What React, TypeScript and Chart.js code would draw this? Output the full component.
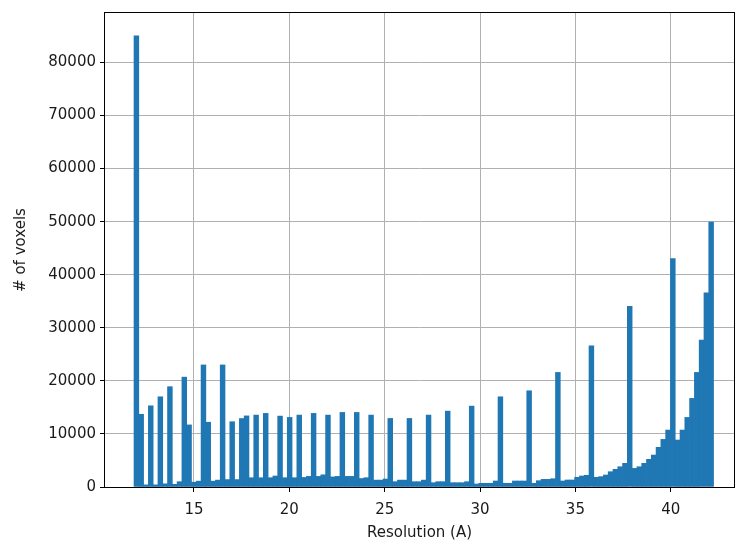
import React, { useEffect, useRef } from "react";
import { Chart, registerables } from "chart.js";
Chart.register(...registerables);

const BIN_START = 11.854;
const BIN_WIDTH = 0.25116;
const counts = [
  85000, 13700, 400, 15300, 400, 17000, 600, 18900, 500, 1000,
  20700, 11700, 900, 1100, 23000, 12200, 1100, 1300, 23000, 1400,
  12300, 1400, 12900, 13400, 1750, 13550, 1750, 13870, 1750, 2070,
  13360, 1750, 13110, 1750, 13550, 1800, 2000, 13870, 2000, 2300,
  13550, 1900, 2000, 14050, 2000, 2000, 14050, 1600, 1750, 13550,
  1300, 1300, 1500, 12920, 1000, 1300, 1300, 12920, 1000, 1000,
  1300, 13550, 810, 1000, 1000, 14300, 810, 810, 810, 1000,
  15240, 560, 700, 700, 700, 1130, 17000, 700, 700, 1130,
  1130, 1130, 18130, 700, 1190, 1440, 1440, 1560, 21590, 1130,
  1320, 1320, 1820, 2070, 2200, 26600, 1820, 1950, 2260, 2880,
  3330, 3820, 4460, 34060, 3510, 3820, 4460, 5210, 6020, 7470,
  8970, 10730, 43040, 8850, 10730, 13110, 16690, 21590, 27670, 36570,
  49930,
];
const xTicks = [15, 20, 25, 30, 35, 40];
const yTicks = [0, 10000, 20000, 30000, 40000, 50000, 60000, 70000, 80000];
const X_MIN = 10.333;
const X_MAX = 43.317;
const Y_MAX = 89313;

const FONT = "'DejaVu Sans', sans-serif";

const boxPlugin = {
  id: "box",
  afterDraw(chart: any) {
    const { ctx, chartArea } = chart;
    ctx.save();
    ctx.strokeStyle = "#000";
    ctx.lineWidth = 1;
    ctx.strokeRect(
      Math.round(chartArea.left) - 0.5,
      Math.round(chartArea.top) - 0.5,
      Math.round(chartArea.right - chartArea.left) + 1,
      Math.round(chartArea.bottom - chartArea.top) + 1
    );
    ctx.restore();
  },
};

export default function App() {
  const ref = useRef<HTMLCanvasElement>(null);
  useEffect(() => {
    const data = counts.map((c, i) => ({ x: BIN_START + BIN_WIDTH * (i + 0.5), y: c }));
    const chart = new Chart(ref.current!, {
      type: "bar",
      data: {
        datasets: [
          {
            data,
            backgroundColor: "#1f77b4",
            borderWidth: 0,
            barPercentage: 1,
            categoryPercentage: 1,
          },
        ],
      },
      options: {
        responsive: false,
        animation: false,
        layout: { padding: { left: 0, right: 1, top: 12, bottom: 0 } },
        plugins: { legend: { display: false }, tooltip: { enabled: false } },
        scales: {
          x: {
            type: "linear",
            min: X_MIN,
            max: X_MAX,
            offset: false,
            z: 1,
            afterBuildTicks: (s: any) => {
              s.ticks = xTicks.map((v) => ({ value: v }));
            },
            afterFit: (s: any) => {
              s.height = 57;
            },
            grid: {
              offset: false,
              color: "#b0b0b0",
              lineWidth: 1,
              tickColor: "#000",
              tickLength: 5,
            },
            border: { display: false },
            ticks: {
              font: { family: FONT, size: 15 },
              color: "#1a1a1a",
              padding: 9,
              maxRotation: 0,
            },
            title: {
              display: true,
              text: "Resolution (A)",
              font: { family: FONT, size: 15 },
              color: "#1a1a1a",
              padding: { top: 0, bottom: 2 },
            },
          },
          y: {
            type: "linear",
            min: 0,
            max: Y_MAX,
            z: 1,
            afterBuildTicks: (s: any) => {
              s.ticks = yTicks.map((v) => ({ value: v }));
            },
            afterFit: (s: any) => {
              s.width = 105;
            },
            grid: {
              color: "#b0b0b0",
              lineWidth: 1,
              tickColor: "#000",
              tickLength: 5,
            },
            border: { display: false },
            ticks: {
              font: { family: FONT, size: 15 },
              color: "#1a1a1a",
              padding: 4,
              callback: (v: any) => String(v),
            },
            title: {
              display: true,
              text: "# of voxels",
              font: { family: FONT, size: 15 },
              color: "#1a1a1a",
              padding: { top: 12, bottom: 0 },
            },
          },
        },
      },
      plugins: [boxPlugin],
    });
    return () => chart.destroy();
  }, []);
  return (
    <div style={{ position: "fixed", left: 0, top: 0, width: 735, height: 544, background: "#fff" }}>
      <canvas ref={ref} width={735} height={544} style={{ display: "block" }} />
    </div>
  );
}
